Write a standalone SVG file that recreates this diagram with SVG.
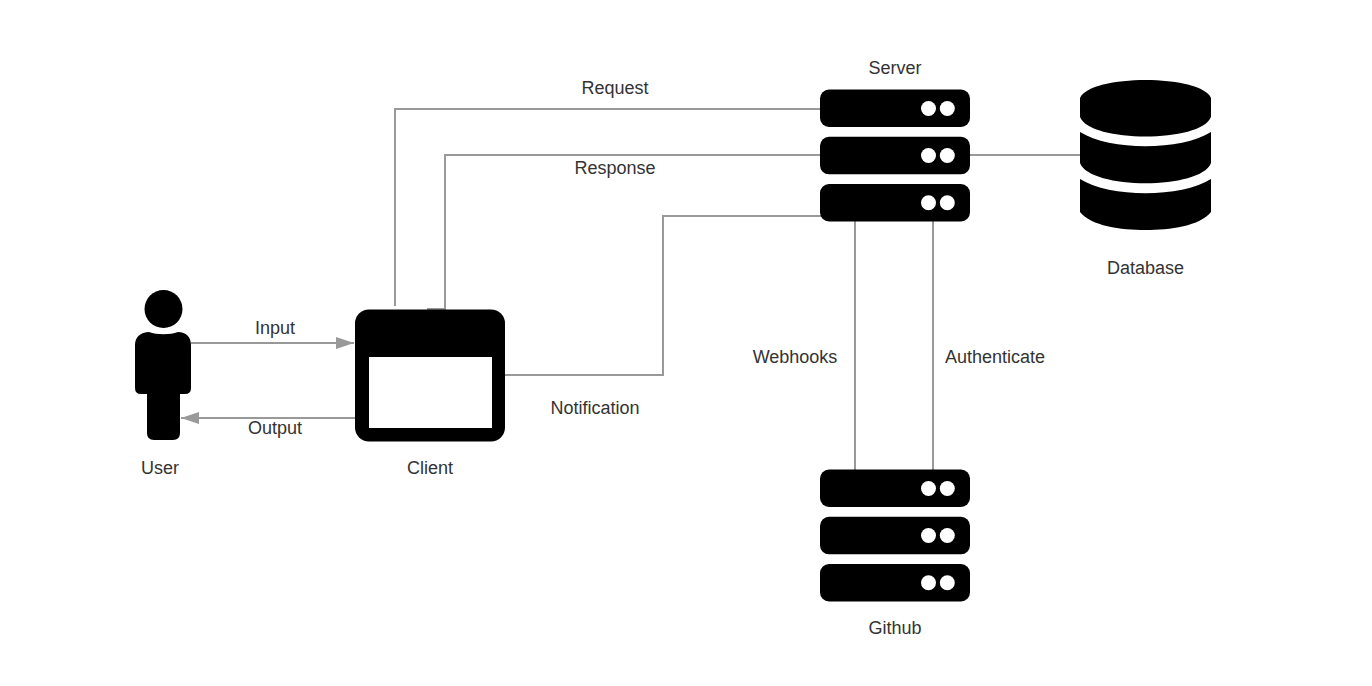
<svg xmlns="http://www.w3.org/2000/svg" width="1372" height="686" viewBox="0 0 1372 686">
<style>
text{font-family:"Liberation Sans",Arial,sans-serif;font-size:18px;fill:#333;text-anchor:middle}
.c{fill:none;stroke:#999;stroke-width:2}
.d{fill:#fff}
</style>
<defs>
<marker id="a" markerUnits="userSpaceOnUse" markerWidth="19" markerHeight="14" refX="18" refY="6" orient="auto"><path d="M0 0L18 6L0 12Z" fill="#999"/></marker>
<g id="rack">
<rect x="820" y="89.500" width="150" height="37.500" rx="9"/><circle class="d" cx="928.500" cy="108.500" r="7.500"/><circle class="d" cx="947.300" cy="108.500" r="7.500"/>
<rect x="820" y="136.800" width="150" height="37.500" rx="9"/><circle class="d" cx="928.500" cy="155.500" r="7.500"/><circle class="d" cx="947.300" cy="155.500" r="7.500"/>
<rect x="820" y="184" width="150" height="37.500" rx="9"/><circle class="d" cx="928.500" cy="202.700" r="7.500"/><circle class="d" cx="947.300" cy="202.700" r="7.500"/>
</g>
</defs>
<rect width="1372" height="686" fill="#fff"/>
<g id="connectors">
<path class="c" d="M191 343H354" marker-end="url(#a)"/>
<path class="c" d="M355 418H181" marker-end="url(#a)"/>
<path class="c" d="M395 306V109H820"/>
<path class="c" d="M427 309H445V155H820"/>
<path class="c" d="M505 375H663V216H822"/>
<path class="c" d="M970 155H1080"/>
<path class="c" d="M855 221V470"/>
<path class="c" d="M933 221V470"/>
</g>
<g id="user">
<circle cx="163.500" cy="309" r="19"/>
<path d="M135 345C135 337 141 332 149 332C157 335 170 335 178 332C186 332 191 337 191 345V388Q191 394 185 394H180V433Q180 440 173 440H154Q147 440 147 433V394H141Q135 394 135 388Z"/>
<text x="160" y="474">User</text>
</g>
<g id="client">
<rect x="355" y="309.500" width="150" height="132" rx="14"/>
<rect x="369" y="357" width="123" height="71" fill="#fff"/>
<text x="430" y="473.500">Client</text>
</g>
<g id="server">
<use href="#rack"/>
<text x="895" y="73.500">Server</text>
</g>
<g id="database">
<path d="M1080 98C1090 74 1201 74 1211 98V117C1201 143 1090 143 1080 117Z"/>
<path d="M1080 132C1110 151 1181 151 1211 132V163C1201 190 1090 190 1080 163Z"/>
<path d="M1080 179C1110 198 1181 198 1211 179V212C1200 226 1170 230 1145.500 230S1091 226 1080 212Z"/>
<text x="1145.500" y="273.500">Database</text>
</g>
<g id="github">
<use href="#rack" y="380"/>
<text x="895" y="633.500">Github</text>
</g>
<g id="labels">
<text x="275" y="333.500">Input</text>
<text x="275" y="433.500">Output</text>
<text x="615" y="93.500">Request</text>
<text x="615" y="173.500">Response</text>
<text x="595" y="413.500">Notification</text>
<text x="795" y="363">Webhooks</text>
<text x="995" y="363">Authenticate</text>
</g>
</svg>
